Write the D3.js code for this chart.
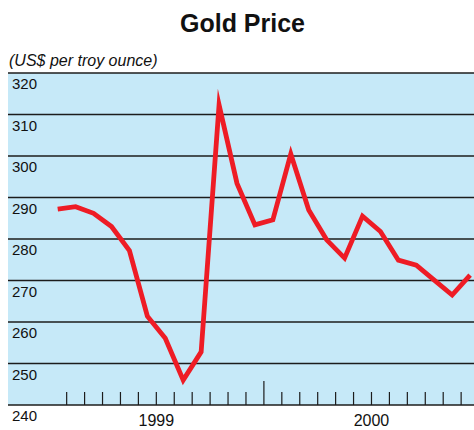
<!DOCTYPE html>
<html>
<head>
<meta charset="utf-8">
<script src="https://cdn.jsdelivr.net/npm/d3@7"></script>
<style>
  body { margin: 0; background: #fff; }
  text { font-family: "Liberation Sans", Arial, sans-serif; fill: #111; }
</style>
</head>
<body>
<div id="chart"></div>
<script>
/* DATA */
// monthly average gold price, US$ per troy ounce (24 months)
var prices = [287.2, 287.8, 286.2, 283.0, 277.2, 261.4, 256.1, 246.0,
              252.8, 312.3, 293.4, 283.4, 284.6, 300.5, 287.0, 279.8,
              275.4, 285.5, 281.8, 274.9, 273.7, 270.1, 266.5, 271.3]
var yTicks = [240, 250, 260, 270, 280, 290, 300, 310, 320]
var yearLabels = ['1999', '2000']
var yearPos = [5.5, 17.5]   // month boundary under which the year sits
var tallTick = 11.5

/* SET UP */
var width = 474, height = 430
var plot = { left: 8, right: 474, top: 73, bottom: 405 }

var svg = d3.select('#chart').append('svg')
  .attr('width', width)
  .attr('height', height)

var x = d3.scaleLinear().domain([0, prices.length - 1]).range([57.7, 470.1])
var y = d3.scaleLinear().domain([240, 320]).range([plot.bottom, plot.top])

// title + unit
svg.append('text')
  .attr('x', 242.5).attr('y', 32)
  .attr('text-anchor', 'middle')
  .style('font-size', '25px').style('font-weight', 'bold')
  .text('Gold Price')

svg.append('text')
  .attr('x', 9).attr('y', 66)
  .style('font-size', '16px').style('font-style', 'italic')
  .text('(US$ per troy ounce)')

// background
svg.append('rect')
  .attr('x', plot.left).attr('y', plot.top)
  .attr('width', plot.right - plot.left).attr('height', plot.bottom - plot.top)
  .attr('fill', '#c6e9f8')

// gridlines
svg.selectAll('line.grid')
  .data(yTicks)
  .enter().append('line')
  .attr('class', 'grid')
  .attr('x1', plot.left).attr('x2', plot.right)
  .attr('y1', function(d) { return y(d) })
  .attr('y2', function(d) { return y(d) })
  .attr('stroke', '#1c1c1c')
  .attr('stroke-width', 1.4)

// y labels sit just under their gridline
svg.selectAll('text.ylab')
  .data(yTicks)
  .enter().append('text')
  .attr('class', 'ylab')
  .attr('x', 12)
  .attr('y', function(d) { return y(d) + 16 })
  .style('font-size', '15px')
  .text(function(d) { return d })

// month ticks along the bottom
var tickVals = d3.range(prices.length - 1).map(function(i) { return i + 0.5 })
svg.selectAll('line.tick')
  .data(tickVals)
  .enter().append('line')
  .attr('class', 'tick')
  .attr('x1', function(d) { return x(d) }).attr('x2', function(d) { return x(d) })
  .attr('y1', function(d) { return d === tallTick ? plot.bottom - 24 : plot.bottom - 13 })
  .attr('y2', plot.bottom)
  .attr('stroke', '#1c1c1c')
  .attr('stroke-width', 1.2)

// year labels (kept just inside the bottom edge)
svg.selectAll('text.year')
  .data(yearLabels)
  .enter().append('text')
  .attr('class', 'year')
  .attr('x', function(d, i) { return x(yearPos[i]) })
  .attr('y', 426)
  .attr('text-anchor', 'middle')
  .style('font-size', '16px')
  .text(function(d) { return d })

// price line
var line = d3.line()
  .x(function(d, i) { return x(i) })
  .y(function(d) { return y(d) })

svg.append('path')
  .datum(prices)
  .attr('d', line)
  .attr('fill', 'none')
  .attr('stroke', '#ee1c25')
  .attr('stroke-width', 4.8)
  .attr('stroke-linejoin', 'miter')
  .attr('stroke-miterlimit', 10)
</script>
</body>
</html>
